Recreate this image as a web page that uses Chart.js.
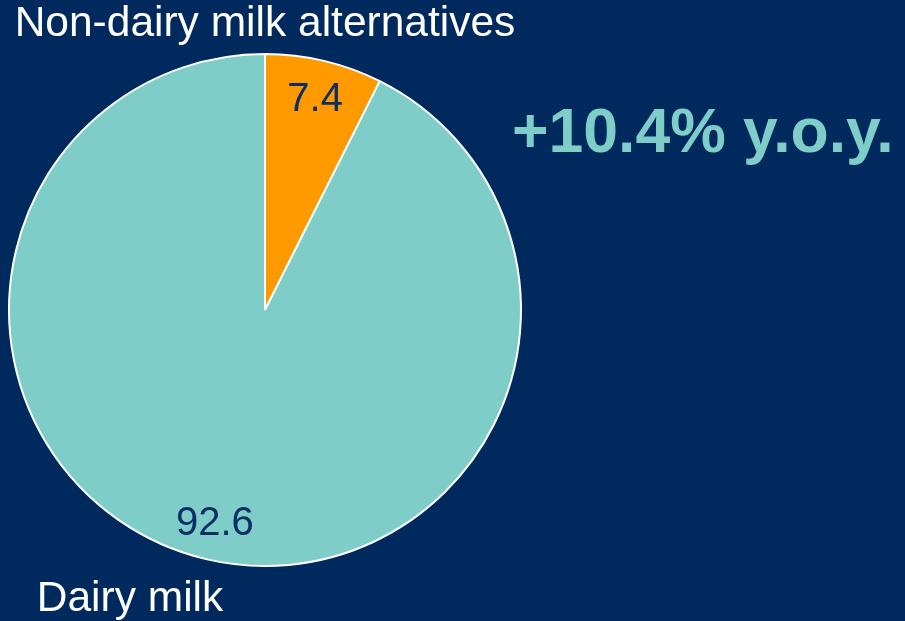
<!DOCTYPE html>
<html>
<head>
<meta charset="utf-8">
<script src="https://cdn.jsdelivr.net/npm/chart.js@4"></script>
<style>
  html, body { margin: 0; padding: 0; background: #00295e; }
  #wrap { position: relative; width: 905px; height: 621px; }
</style>
</head>
<body>
<div id="wrap"><canvas id="milk-pie"></canvas></div>
<script>
// Data
const categories = ['Non-dairy milk alternatives', 'Dairy milk'];
const shares = [7.4, 92.6];
const headline = '+10.4% y.o.y.';

const navy = '#00295e';
const teal = '#7fcdc9';
const orange = '#ff9900';
const font = '"Liberation Sans", Arial, sans-serif';

// Draws slice values, category labels and the headline
const labelPlugin = {
    id: 'pieLabels',
    afterDraw(chart) {
        const ctx = chart.ctx;
        const arcs = chart.getDatasetMeta(0).data;
        ctx.save();
        arcs.forEach((arc, i) => {
            const { x, y, startAngle, endAngle, outerRadius } = arc.getProps(['x', 'y', 'startAngle', 'endAngle', 'outerRadius'], true);
            const mid = (startAngle + endAngle) / 2;
            const r = outerRadius * 0.85;
            ctx.fillStyle = '#0b2f62';
            ctx.font = '40px ' + font;
            ctx.textAlign = 'center';
            ctx.textBaseline = 'middle';
            ctx.fillText(shares[i].toFixed(1), x + Math.cos(mid) * r, y + Math.sin(mid) * r + 2);

            // category labels outside the pie
            ctx.fillStyle = '#ffffff';
            ctx.font = '42.5px ' + font;
            ctx.textBaseline = 'alphabetic';
            ctx.textAlign = 'center';
            if (i === 0) {
                ctx.fillText(categories[i], x, y - outerRadius - 18);
            } else {
                ctx.fillText(categories[i], x - 135, y + outerRadius + 45);
            }
        });
        ctx.fillStyle = teal;
        ctx.font = 'bold 62.5px ' + font;
        ctx.textAlign = 'left';
        ctx.textBaseline = 'alphabetic';
        ctx.fillText(headline, 512, 152);
        ctx.restore();
    }
};

const pieChart = new Chart(document.getElementById('milk-pie'), {
    type: 'pie',
    data: {
        labels: categories,
        datasets: [{
            data: shares,
            backgroundColor: [orange, teal],
            borderColor: '#ffffff',
            borderWidth: 2
        }]
    },
    options: {
        responsive: true,
        maintainAspectRatio: false,
        animation: false,
        layout: {
            padding: { left: 8, top: 53, right: 383, bottom: 54 }
        },
        plugins: {
            legend: { display: false },
            tooltip: { enabled: false }
        }
    },
    plugins: [labelPlugin]
});
</script>
</body>
</html>
